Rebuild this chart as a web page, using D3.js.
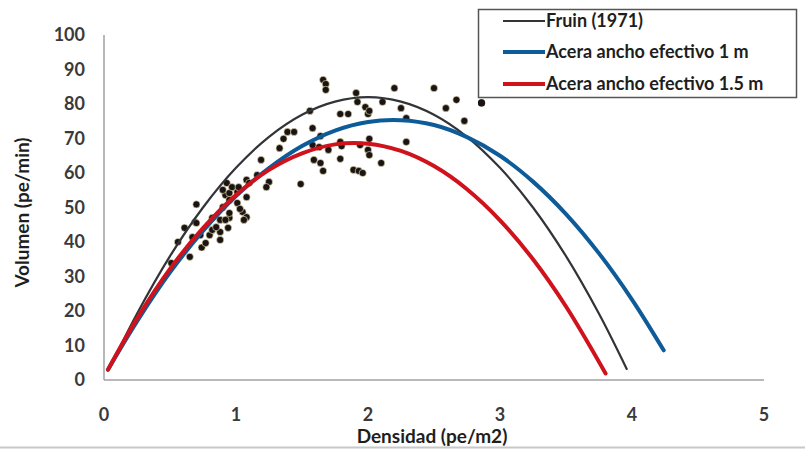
<!DOCTYPE html>
<html>
<head>
<meta charset="utf-8">
<script src="https://cdn.jsdelivr.net/npm/d3@7"></script>
<style>
  body { margin: 0; background: #fff; }
  svg { display: block; }
  .tick-label { font-family: Lato, "Open Sans", sans-serif; font-weight: 700; font-size: 18px; fill: #3a3a3a; }
  .axis-title { font-family: Lato, "Open Sans", sans-serif; font-weight: 700; font-size: 19px; fill: #1e1e1e; }
  .legend-text { font-family: Lato, "Open Sans", sans-serif; font-weight: 700; font-size: 18px; fill: #1e1e1e; }
</style>
</head>
<body>
<svg id="chart"></svg>
<script>
// Tick labels
const xTicks = [0, 1, 2, 3, 4, 5];
const yTicks = [0, 10, 20, 30, 40, 50, 60, 70, 80, 90, 100];

// Series names
const seriesNames = ['Fruin (1971)', 'Acera ancho efectivo 1 m', 'Acera ancho efectivo 1.5 m'];

// Curves: [densidad, volumen]
const fruin = [
  [0.04, 3.3], [0.25, 19.2], [0.5, 35.9], [0.75, 50.0], [1.0, 61.5], [1.25, 70.5],
  [1.5, 76.9], [1.75, 80.7], [2.0, 82.0], [2.25, 80.7], [2.5, 76.9], [2.75, 70.5],
  [3.0, 61.5], [3.25, 50.0], [3.5, 35.9], [3.75, 19.2], [3.96, 3.2]
];
const acera1 = [
  [0.03, 3.0], [0.25, 17.0], [0.5, 31.2], [0.75, 43.2], [1.0, 53.3], [1.25, 61.4],
  [1.5, 67.8], [1.75, 72.3], [2.0, 74.8], [2.25, 75.3], [2.5, 73.9], [2.75, 70.4],
  [3.0, 65.0], [3.25, 57.5], [3.5, 48.1], [3.75, 36.7], [4.0, 23.3], [4.24, 8.6]
];
const acera15 = [
  [0.03, 3.0], [0.25, 17.8], [0.5, 32.2], [0.75, 44.0], [1.0, 53.6], [1.25, 60.9],
  [1.5, 65.7], [1.75, 68.3], [2.0, 68.5], [2.25, 66.4], [2.5, 62.0], [2.75, 55.3],
  [3.0, 46.3], [3.25, 35.0], [3.5, 21.3], [3.8, 1.9]
];

// Observed points: [densidad, volumen]
const observed = [
  [0.51, 33.9], [0.56, 40.0], [0.65, 35.7], [0.61, 44.1], [0.69, 45.8], [0.70, 50.9],
  [0.73, 42.0], [0.74, 38.4], [0.77, 39.7], [0.67, 41.4], [0.70, 45.5], [0.80, 42.0],
  [0.82, 43.5], [0.88, 42.9], [0.94, 44.1], [0.85, 44.3], [0.88, 46.4], [0.82, 47.0],
  [0.95, 47.0], [0.90, 50.1], [0.95, 48.4], [1.05, 48.7], [1.08, 47.2], [0.92, 53.6],
  [0.95, 52.2], [1.01, 51.3], [1.08, 53.0], [0.90, 55.1], [0.95, 54.2], [1.01, 54.5],
  [0.93, 57.1], [0.97, 55.9], [1.02, 55.9], [1.08, 58.0], [1.10, 57.1], [1.16, 59.4],
  [1.25, 57.4], [1.23, 55.9], [1.19, 63.8], [1.33, 67.2], [1.36, 69.9], [1.39, 71.9],
  [1.44, 71.9], [1.58, 73.0], [1.56, 78.0], [1.64, 70.7], [1.58, 68.1], [1.63, 67.5],
  [1.59, 63.8], [1.64, 62.9], [1.66, 60.6], [1.49, 56.8], [1.66, 87.0], [1.68, 85.8],
  [1.68, 84.1], [1.91, 83.2], [1.92, 80.6], [1.79, 77.1], [1.85, 77.1], [1.98, 79.1],
  [2.00, 77.1], [2.01, 78.0], [1.79, 69.0], [1.80, 67.8], [1.70, 66.7], [2.01, 69.9],
  [1.94, 68.1], [2.00, 66.7], [2.01, 65.2], [1.79, 64.1], [1.89, 60.9], [1.93, 60.6],
  [1.96, 60.0], [2.20, 84.6], [2.50, 84.6], [2.11, 80.6], [2.25, 78.8], [2.29, 75.9],
  [2.67, 81.2], [2.59, 78.8], [2.73, 75.1], [2.86, 80.3], [2.29, 69.0], [2.10, 62.9],
  [0.88, 40.6], [1.03, 49.6], [0.92, 46.4], [1.06, 46.4]
];

const width = 805, height = 450;
const svg = d3.select('#chart').attr('width', width).attr('height', height);

const x = d3.scaleLinear().domain([0, 5]).range([104, 764]);
const y = d3.scaleLinear().domain([0, 100]).range([380, 35]);

// Frame bottom line
svg.append('line')
    .attr('x1', 0).attr('x2', width)
    .attr('y1', 447.5).attr('y2', 447.5)
    .attr('stroke', '#c8c8c8').attr('stroke-width', 2);

// Axis lines
svg.append('line')
    .attr('x1', x(0)).attr('x2', x(0))
    .attr('y1', y(100)).attr('y2', y(0))
    .attr('stroke', '#a0a0a0').attr('stroke-width', 1.5);
svg.append('line')
    .attr('x1', x(0)).attr('x2', x(5))
    .attr('y1', y(0)).attr('y2', y(0))
    .attr('stroke', '#a0a0a0').attr('stroke-width', 1.5);

// Tick labels
svg.selectAll('.ytick')
    .data(yTicks)
  .join('text')
    .attr('class', 'tick-label ytick')
    .attr('x', 85)
    .attr('y', d => y(d))
    .attr('dy', '0.35em')
    .attr('text-anchor', 'end')
    .text(d => d);

svg.selectAll('.xtick')
    .data(xTicks)
  .join('text')
    .attr('class', 'tick-label xtick')
    .attr('x', d => x(d))
    .attr('y', 415)
    .attr('dy', '0.35em')
    .attr('text-anchor', 'middle')
    .text(d => d);

// Axis titles
svg.append('text')
    .attr('class', 'axis-title')
    .attr('x', 432)
    .attr('y', 436)
    .attr('dy', '0.35em')
    .attr('text-anchor', 'middle')
    .text('Densidad (pe/m2)');

svg.append('text')
    .attr('class', 'axis-title')
    .attr('transform', `translate(22,${(y(0) + y(100)) / 2 + 5}) rotate(-90)`)
    .attr('dy', '0.35em')
    .attr('text-anchor', 'middle')
    .text('Volumen (pe/min)');

// Observed points
svg.append('g')
  .selectAll('circle')
    .data(observed)
  .join('circle')
    .attr('cx', d => x(d[0]))
    .attr('cy', d => y(d[1]))
    .attr('r', 3.6)
    .attr('fill', '#1c1414')
    .attr('stroke', '#f3eebc')
    .attr('stroke-width', 1)
    .attr('stroke-opacity', 0.6);

// Curves
const line = d3.line()
    .x(d => x(d[0]))
    .y(d => y(d[1]))
    .curve(d3.curveCatmullRom.alpha(0.5));

const curves = [
  {data: fruin, color: '#333438', w: 2.2},
  {data: acera1, color: '#0d5b98', w: 4},
  {data: acera15, color: '#d0121c', w: 4}
];

svg.append('g')
  .selectAll('path')
    .data(curves)
  .join('path')
    .attr('d', d => line(d.data))
    .attr('fill', 'none')
    .attr('stroke', d => d.color)
    .attr('stroke-width', d => d.w)
    .attr('stroke-linecap', 'round');

// Legend
const legend = svg.append('g');
legend.append('rect')
    .attr('x', 478.5).attr('y', 9.5)
    .attr('width', 318).attr('height', 88)
    .attr('fill', '#fff')
    .attr('stroke', '#555')
    .attr('stroke-width', 1.5);

const legendY = [21, 52, 84];
seriesNames.forEach((name, i) => {
  legend.append('line')
      .attr('x1', 503).attr('x2', 545)
      .attr('y1', legendY[i]).attr('y2', legendY[i])
      .attr('stroke', curves[i].color)
      .attr('stroke-width', curves[i].w);
  legend.append('text')
      .attr('class', 'legend-text')
      .attr('x', 546)
      .attr('y', legendY[i])
      .attr('dy', '0.35em')
      .text(name);
});

// Point sitting on the legend corner
svg.append('circle')
    .attr('cx', x(2.86)).attr('cy', y(80.3))
    .attr('r', 3.6)
    .attr('fill', '#1c1414');
</script>
</body>
</html>
